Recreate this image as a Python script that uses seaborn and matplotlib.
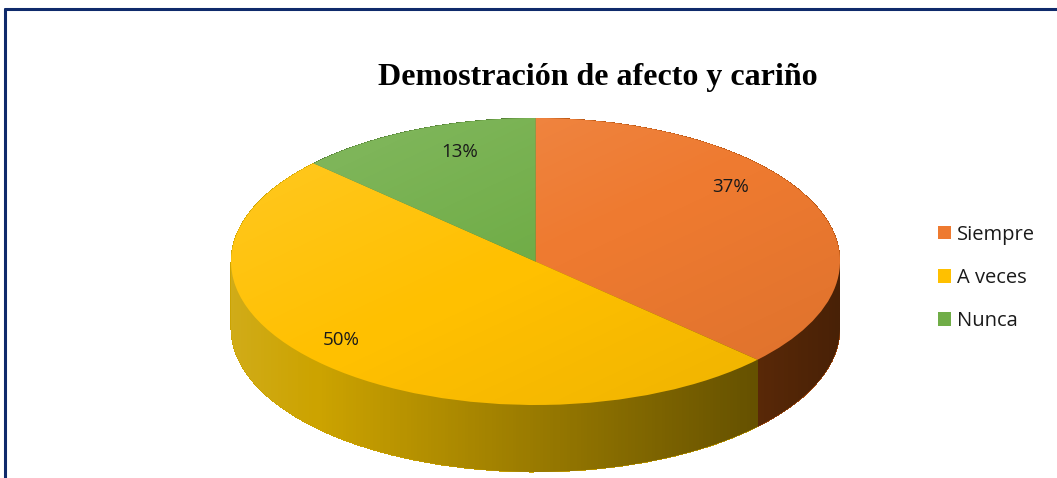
import numpy as np
import matplotlib
matplotlib.use("Agg")
import matplotlib.pyplot as plt
from matplotlib.path import Path
from matplotlib.patches import PathPatch, Ellipse
from matplotlib.lines import Line2D
import seaborn as sns

# data
labels = ["Siempre", "A veces", "Nunca"]
values = [37, 50, 13]
top_colors = ["#EE7A30", "#FFC000", "#70AD47"]
side_colors = ["#B4520F", "#CCA300", "#4F7A32"]
title = "Demostración de afecto y cariño"

sns.set_style("white")
plt.rcParams["font.family"] = ["Open Sans", "DejaVu Sans"]

W, H = 1057, 478
fig = plt.figure(figsize=(W / 100, H / 100), dpi=100)
ax = fig.add_axes([0, 0, 1, 1])

# pie geometry in pixels (ellipse squashed through axis scaling)
cx, cy_px = 535.5, 261.5
rx, ry = 304.5, 143.5
depth_px = 67
s = ry / rx
cy = (H - cy_px) / s
depth = depth_px / s

# side: stacked pie layers
for d in np.arange(depth, 0, -1.0):
    ax.pie(values, colors=side_colors, startangle=90, counterclock=False,
           radius=rx, center=(cx, cy - d), frame=True,
           wedgeprops=dict(linewidth=0, antialiased=False))

# shading over the side, lighter left / darker right
hull_t = np.linspace(0, np.pi, 200)
upper = np.c_[cx + rx * np.cos(hull_t), cy + rx * np.sin(hull_t)]
lower = np.c_[cx + rx * np.cos(hull_t + np.pi), cy - depth + rx * np.sin(hull_t + np.pi)]
hull = PathPatch(Path(np.vstack([upper, lower, upper[:1]]), closed=True),
                 transform=ax.transData, facecolor="none", edgecolor="none")
ax.add_patch(hull)
grad = np.zeros((2, 256, 4))
ramp = np.linspace(-0.1, 0.6, 256)
grad[..., :3] = (ramp < 0)[None, :, None] * 1.0
grad[..., 3] = np.abs(ramp)[None, :]
im = ax.imshow(grad, extent=(cx - rx, cx + rx, cy - depth - rx, cy),
               aspect="auto", interpolation="bilinear", zorder=2)
im.set_clip_path(hull)

# top face
wedges, texts, autotexts = ax.pie(
    values, colors=top_colors, startangle=90, counterclock=False,
    radius=rx, center=(cx, cy), frame=True, autopct="%1.0f%%",
    pctdistance=0.82, wedgeprops=dict(linewidth=0),
    textprops=dict(fontsize=13.5, color="#1a1a1a"))
for w in wedges:
    w.set_zorder(3)

# nudge the percentage labels toward where the 3D view puts them
label_px = [(731, 187), (341, 340), (460, 152)]
for t, (px, py) in zip(autotexts, label_px):
    t.set_position((px, (H - py) / s))
    t.set_zorder(5)

# light sheen on the top
top_clip = Ellipse((cx, cy), 2 * rx, 2 * rx, transform=ax.transData,
                   facecolor="none", edgecolor="none")
ax.add_patch(top_clip)
yy, xx = np.mgrid[0:1:128j, 0:1:128j]
sheen = np.zeros((128, 128, 4))
diag = (xx + yy) / 2
sheen[..., :3] = (diag < 0.5)[..., None] * 1.0
sheen[..., 3] = np.clip(np.abs(diag - 0.5) * 0.3, 0, 0.15) * np.where(diag < 0.5, 1.0, 0.5)
im2 = ax.imshow(sheen, extent=(cx - rx, cx + rx, cy - rx, cy + rx),
                aspect="auto", interpolation="bilinear", zorder=4)
im2.set_clip_path(top_clip)

ax.set_aspect("auto")
ax.set_xlim(0, W)
ax.set_ylim(0, H / s)
ax.axis("off")

fig.text(598 / W, 1 - 78 / H, title, ha="center", va="center", color="black",
         fontsize=23, fontweight="bold", family="Liberation Serif")

fig.legend(wedges, labels, loc="center left", bbox_to_anchor=(930 / W, 1 - 278 / H),
           frameon=False, fontsize=14.5, handlelength=0.65, handleheight=0.65,
           handletextpad=0.3, labelspacing=1.15, borderaxespad=0,
           labelcolor="#1a1a1a")

# chart area border (top and left)
navy = "#0F2A6B"
fig.add_artist(Line2D([4.5 / W, 1], [1 - 9 / H, 1 - 9 / H], color=navy, lw=2.2))
fig.add_artist(Line2D([5 / W, 5 / W], [0, 1 - 9 / H], color=navy, lw=2.2))

fig.savefig("out.png", dpi=100)
